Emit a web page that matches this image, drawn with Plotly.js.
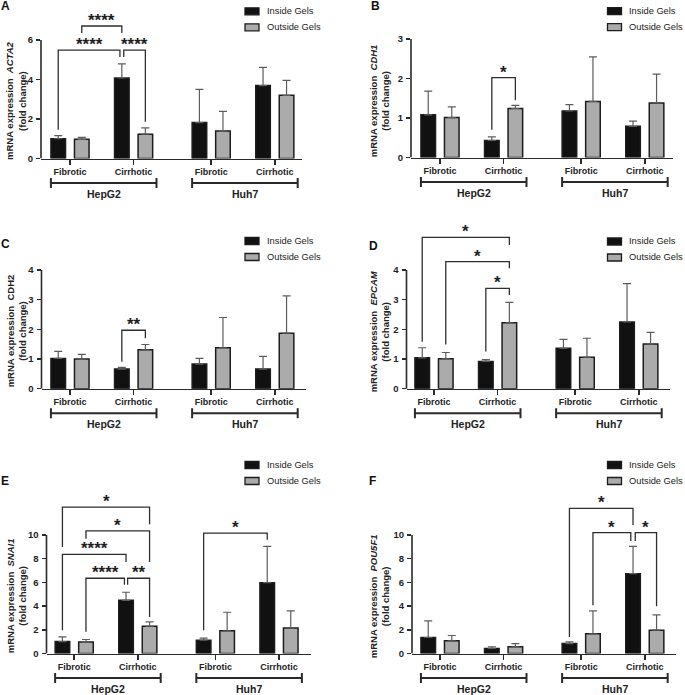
<!DOCTYPE html>
<html>
<head>
<meta charset="utf-8">
<script src="https://cdn.plot.ly/plotly-3.0.1.min.js"></script>
<style>html,body{margin:0;padding:0;background:#fff;}</style>
</head>
<body>
<div id="chart" style="width:685px;height:695px;"></div>
<script>
// ---------------- DATA ----------------
const groups = ['Fibrotic', 'Cirrhotic', 'Fibrotic', 'Cirrhotic'];
const cellLines = ['HepG2', 'Huh7'];
const seriesNames = ['Inside Gels', 'Outside Gels'];
const genes = ['ACTA2', 'CDH1', 'CDH2', 'EPCAM', 'SNAI1', 'POU5F1'];
const panelLetters = ['A', 'B', 'C', 'D', 'E', 'F'];

const acta2Inside    = [1.00, 4.08, 1.82, 3.69];
const acta2InsideSD  = [0.16, 0.71, 1.68, 0.92];
const acta2Outside   = [0.97, 1.23, 1.39, 3.20];
const acta2OutsideSD = [0.10, 0.32, 1.00, 0.76];

const cdh1Inside     = [1.08, 0.43, 1.18, 0.79];
const cdh1InsideSD   = [0.60, 0.09, 0.16, 0.13];
const cdh1Outside    = [1.01, 1.24, 1.42, 1.38];
const cdh1OutsideSD  = [0.27, 0.08, 1.13, 0.73];

const cdh2Inside     = [1.02, 0.66, 0.83, 0.66];
const cdh2InsideSD   = [0.24, 0.06, 0.19, 0.43];
const cdh2Outside    = [1.00, 1.31, 1.38, 1.87];
const cdh2OutsideSD  = [0.16, 0.18, 1.02, 1.26];

const epcamInside    = [1.04, 0.92, 1.36, 2.25];
const epcamInsideSD  = [0.34, 0.06, 0.30, 1.29];
const epcamOutside   = [1.01, 2.22, 1.06, 1.51];
const epcamOutsideSD = [0.21, 0.69, 0.64, 0.39];

const snai1Inside    = [1.01, 4.49, 1.12, 5.98];
const snai1InsideSD  = [0.39, 0.68, 0.17, 3.06];
const snai1Outside   = [0.96, 2.30, 1.91, 2.16];
const snai1OutsideSD = [0.22, 0.37, 1.57, 1.43];

const pou5f1Inside    = [1.35, 0.42, 0.84, 6.74];
const pou5f1InsideSD  = [1.40, 0.14, 0.14, 2.30];
const pou5f1Outside   = [1.07, 0.56, 1.66, 1.97];
const pou5f1OutsideSD = [0.45, 0.28, 1.94, 1.29];

const ticksA = [0, 2, 4, 6];
const ticksB = [0, 1, 2, 3];
const ticksC = [0, 1, 2, 3, 4];
const ticksD = [0, 1, 2, 3, 4];
const ticksE = [0, 2, 4, 6, 8, 10];
const ticksF = [0, 2, 4, 6, 8, 10];

// ---------------- LAYOUT CONFIG ----------------
const W = 685, H = 695;
const FONT = 'Liberation Sans, Arial, Helvetica, sans-serif';
const INK = '#222222';
const FILLS = ['#111111', '#ababab'];
const groupPos = [0, 1, 2.22, 3.22];
const PPUX = 63.6;
const BAR_OFF = 0.185;

const geom = [
  {L: 41,    R: 302, g0: 70,   y0: 158.5, yTopPx: 40,  top: 4,   tx: 15.7, letter: [5, 6],     leg: [245, 11.3]},
  {L: 411,   R: 673, g0: 440,  y0: 157.5, yTopPx: 39,  top: 4,   tx: 379,  letter: [375, 6],   leg: [607.5, 11.2]},
  {L: 41.5,  R: 306, g0: 70,   y0: 388.7, yTopPx: 270, top: 232, tx: 16,   letter: [5, 244],   leg: [245, 241]},
  {L: 406.5, R: 670, g0: 434,  y0: 388.7, yTopPx: 270, top: 232, tx: 379,  letter: [374, 246], leg: [607.5, 241.5]},
  {L: 46.5,  R: 311, g0: 74.2, y0: 653.5, yTopPx: 535, top: 495, tx: 16,   letter: [4.5, 481], leg: [245, 465]},
  {L: 412,   R: 676, g0: 440,  y0: 653.5, yTopPx: 535, top: 495, tx: 379,  letter: [372.5, 481], leg: [607.5, 465]}
];

// significance brackets: from/to = [group, series, nudge]
const sigA = [
  {from: [0, 0, 0], to: [1, 0, -0.03], y: 5.49, yFrom: 1.45, yTo: 5.14, text: '****'},
  {from: [1, 0, 0.03], to: [1, 1, 0], y: 5.49, yFrom: 5.14, yTo: 1.86, text: '****'},
  {from: [0, 1, 0], to: [1, 0, 0], y: 6.71, yFrom: 6.36, yTo: 6.36, text: '****'}
];
const sigB = [
  {from: [1, 0, 0], to: [1, 1, 0], y: 2.02, yFrom: 0.70, yTo: 1.45, text: '*'}
];
const sigC = [
  {from: [1, 0, 0], to: [1, 1, 0], y: 1.97, yFrom: 0.91, yTo: 1.70, text: '**'}
];
const sigD = [
  {from: [0, 0, 0], to: [1, 1, 0], y: 5.10, yFrom: 1.58, yTo: 4.84, text: '*'},
  {from: [0, 1, 0], to: [1, 1, 0], y: 4.28, yFrom: 1.49, yTo: 4.06, text: '*'},
  {from: [1, 0, 0], to: [1, 1, 0], y: 3.38, yFrom: 1.25, yTo: 3.16, text: '*'}
];
const sigE = [
  {from: [1, 0, 0.025], to: [1, 1, 0], y: 6.35, yFrom: 5.81, yTo: 3.09, text: '**'},
  {from: [0, 1, 0], to: [1, 0, -0.025], y: 6.35, yFrom: 1.83, yTo: 5.81, text: '****'},
  {from: [0, 0, 0], to: [1, 0, 0], y: 8.37, yFrom: 1.97, yTo: 7.72, text: '****'},
  {from: [0, 1, 0], to: [1, 1, 0], y: 10.34, yFrom: 9.69, yTo: 7.72, text: '*'},
  {from: [0, 0, 0], to: [1, 1, 0], y: 12.35, yFrom: 8.98, yTo: 10.9, text: '*'},
  {from: [2, 0, 0], to: [3, 0, 0], y: 10.16, yFrom: 1.96, yTo: 9.6, text: '*'}
];
const sigF = [
  {from: [2, 1, 0], to: [3, 0, -0.035], y: 10.2, yFrom: 4.07, yTo: 9.49, text: '*'},
  {from: [3, 0, 0.035], to: [3, 1, 0], y: 10.2, yFrom: 9.49, yTo: 3.99, text: '*'},
  {from: [2, 0, 0], to: [3, 0, 0], y: 12.25, yFrom: 1.40, yTo: 10.85, text: '*'}
];

const panels = [
  {gene: genes[0], italic: true,  inside: acta2Inside,  insideSD: acta2InsideSD,  outside: acta2Outside,  outsideSD: acta2OutsideSD,  ticks: ticksA, sig: sigA},
  {gene: genes[1], italic: true,  inside: cdh1Inside,   insideSD: cdh1InsideSD,   outside: cdh1Outside,   outsideSD: cdh1OutsideSD,   ticks: ticksB, sig: sigB},
  {gene: genes[2], italic: false, inside: cdh2Inside,   insideSD: cdh2InsideSD,   outside: cdh2Outside,   outsideSD: cdh2OutsideSD,   ticks: ticksC, sig: sigC},
  {gene: genes[3], italic: true,  inside: epcamInside,  insideSD: epcamInsideSD,  outside: epcamOutside,  outsideSD: epcamOutsideSD,  ticks: ticksD, sig: sigD},
  {gene: genes[4], italic: true,  inside: snai1Inside,  insideSD: snai1InsideSD,  outside: snai1Outside,  outsideSD: snai1OutsideSD,  ticks: ticksE, sig: sigE},
  {gene: genes[5], italic: true,  inside: pou5f1Inside, insideSD: pou5f1InsideSD, outside: pou5f1Outside, outsideSD: pou5f1OutsideSD, ticks: ticksF, sig: sigF}
];

// ---------------- BUILD ----------------
const px2x = px => px / W;
const px2y = py => 1 - py / H;

const traces = [];
const shapes = [];
const annotations = [];
const layout = {
  width: W, height: H,
  margin: {l: 0, r: 0, t: 0, b: 0},
  paper_bgcolor: '#ffffff', plot_bgcolor: 'rgba(0,0,0,0)',
  showlegend: false,
  barmode: 'group', bargap: 0.26, bargroupgap: 0.38,
  font: {family: FONT, color: INK},
  shapes: shapes, annotations: annotations
};

panels.forEach((p, i) => {
  const n = i + 1;
  const xa = n === 1 ? 'x' : 'x' + n;
  const ya = n === 1 ? 'y' : 'y' + n;
  const g = geom[i];
  const maxTick = p.ticks[p.ticks.length - 1];
  const ppuY = (g.y0 - g.yTopPx) / maxTick;

  layout[n === 1 ? 'xaxis' : 'xaxis' + n] = {
    domain: [px2x(g.L), px2x(g.R)],
    range: [(g.L - g.g0) / PPUX, (g.R - g.g0) / PPUX],
    anchor: ya, showline: true, linecolor: '#2a2a2a', linewidth: 1.6,
    ticks: 'outside', ticklen: 5, tickwidth: 1.5, tickcolor: '#2a2a2a',
    tickmode: 'array', tickvals: groupPos, ticktext: groups,
    tickfont: {family: FONT, size: 9, color: INK, weight: 'bold'},
    ticklabelstandoff: -1,
    showgrid: false, zeroline: false, fixedrange: true
  };
  layout[n === 1 ? 'yaxis' : 'yaxis' + n] = {
    domain: [px2y(g.y0), px2y(g.top)],
    range: [0, (g.y0 - g.top) / ppuY],
    anchor: xa, showline: false,
    ticks: 'outside', ticklen: 4, tickwidth: 1.5, tickcolor: '#2a2a2a',
    tickmode: 'array', tickvals: p.ticks, ticktext: p.ticks.map(String),
    tickfont: {family: FONT, size: 9.5, color: INK, weight: 'bold'},
    ticklabelstandoff: 1,
    showgrid: false, zeroline: false, fixedrange: true
  };

  // y axis line (only up to the last tick)
  shapes.push({type: 'line', xref: xa + ' domain', yref: ya, x0: 0, x1: 0, y0: 0, y1: maxTick,
    line: {color: '#2a2a2a', width: 1.6}, layer: 'above'});

  // bars
  const vals = [p.inside, p.outside];
  const sds = [p.insideSD, p.outsideSD];
  vals.forEach((v, s) => {
    traces.push({
      type: 'bar', x: groupPos, y: v, xaxis: xa, yaxis: ya, name: seriesNames[s],
      marker: {color: FILLS[s], line: {color: '#1c1c1c', width: 1.5}},
      error_y: {type: 'data', symmetric: false, array: sds[s], arrayminus: sds[s].map(() => 0),
        color: '#5c5c5c', thickness: 1.2, width: 4},
      hoverinfo: 'skip'
    });
  });

  // significance brackets
  const barX = (b) => groupPos[b[0]] + (b[1] === 0 ? -BAR_OFF : BAR_OFF) + b[2];
  p.sig.forEach(sg => {
    const x1 = barX(sg.from), x2 = barX(sg.to);
    shapes.push({type: 'path', xref: xa, yref: ya,
      path: `M ${x1},${sg.yFrom} L ${x1},${sg.y} L ${x2},${sg.y} L ${x2},${sg.yTo}`,
      line: {color: '#2e2e2e', width: 1.3}, layer: 'above'});
    annotations.push({xref: xa, yref: ya, x: (x1 + x2) / 2, y: sg.y, yanchor: 'bottom', xanchor: 'center',
      yshift: -6, text: '<b>' + sg.text + '</b>', showarrow: false,
      font: {family: FONT, size: 17, color: '#1e1e1e'}});
  });

  // cell-line brackets + labels
  [[0, 1], [2, 3]].forEach((pair, c) => {
    const xs = groupPos[pair[0]] - 0.30, xe = groupPos[pair[1]] + 0.36;
    const yb = px2y(g.y0 + 24.5);
    shapes.push({type: 'line', xref: xa, yref: 'paper', x0: xs, x1: xe, y0: yb, y1: yb, line: {color: '#2a2a2a', width: 2}});
    [xs, xe].forEach(xc => shapes.push({type: 'line', xref: xa, yref: 'paper', x0: xc, x1: xc,
      y0: px2y(g.y0 + 19.5), y1: px2y(g.y0 + 29.5), line: {color: '#2a2a2a', width: 2}}));
    annotations.push({xref: xa, yref: 'paper', x: (xs + xe) / 2, y: px2y(g.y0 + 35.5), yanchor: 'middle', xanchor: 'center',
      text: '<b>' + cellLines[c] + '</b>', showarrow: false, font: {family: FONT, size: 10.5, color: INK}});
  });

  // y-axis title
  const geneTxt = p.italic ? '<i>' + p.gene + '</i>' : p.gene;
  annotations.push({xref: 'paper', yref: 'paper', x: px2x(g.tx), y: px2y((g.y0 + g.yTopPx) / 2 + 2),
    xanchor: 'center', yanchor: 'middle', textangle: -90, showarrow: false,
    text: '<b>mRNA expression\u00a0\u00a0' + geneTxt + '</b><br><b>(fold change)</b>',
    font: {family: FONT, size: 9.5, color: INK}});

  // panel letter
  annotations.push({xref: 'paper', yref: 'paper', x: px2x(g.letter[0]), y: px2y(g.letter[1]),
    xanchor: 'center', yanchor: 'middle', showarrow: false,
    text: '<b>' + panelLetters[i] + '</b>', font: {family: FONT, size: 12, color: '#111'}});

  // legend
  seriesNames.forEach((nm, s) => {
    const bx = g.leg[0], ry = g.leg[1] + s * 16;
    shapes.push({type: 'rect', xref: 'paper', yref: 'paper', x0: px2x(bx), x1: px2x(bx + 14),
      y0: px2y(ry + 3.5), y1: px2y(ry - 3.5), fillcolor: FILLS[s], line: {color: '#1c1c1c', width: 1.3}});
    annotations.push({xref: 'paper', yref: 'paper', x: px2x(bx + 19.5), y: px2y(ry), xanchor: 'left', yanchor: 'middle',
      showarrow: false, text: nm, font: {family: FONT, size: 9.3, color: INK}});
  });
});

Plotly.newPlot('chart', traces, layout, {staticPlot: true, displayModeBar: false});
</script>
</body>
</html>
